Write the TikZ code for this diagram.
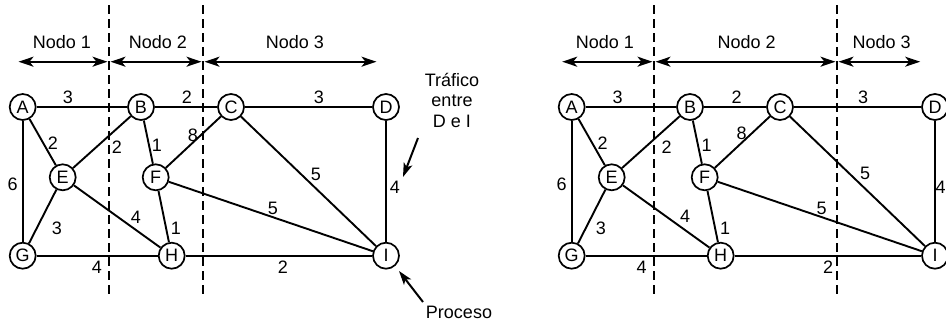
\documentclass[tikz,border=0pt]{standalone}
\usepackage{fontspec}
\setmainfont{Liberation Sans}
\usetikzlibrary{arrows.meta}
\tikzset{
  vtx/.style={circle,draw,line width=1.7pt,minimum size=26pt,inner sep=0pt,fill=white,font=\fontsize{18}{20}\selectfont},
  edg/.style={line width=1.9pt},
  wlab/.style={inner sep=0pt,font=\fontsize{18}{20}\selectfont},
  divline/.style={line width=1.9pt,dash pattern=on 9pt off 5pt},
  span/.style={line width=1.9pt,{Stealth[length=15pt,width=10pt,inset=4pt]}-{Stealth[length=15pt,width=10pt,inset=4pt]},shorten <=1.5pt,shorten >=1.5pt},
  note/.style={line width=2pt,-{Stealth[length=14pt,width=9pt,inset=3.5pt]}},
  ttl/.style={inner sep=0pt,font=\fontsize{18}{20}\selectfont}
}
\newcommand{\netgraph}[1]{%
  \node[vtx] (#1A) at (22.7,107) {A};
  \node[vtx] (#1B) at (141,107) {B};
  \node[vtx] (#1C) at (231,107) {C};
  \node[vtx] (#1D) at (386,107) {D};
  \node[vtx] (#1E) at (62.7,177.3) {E};
  \node[vtx] (#1F) at (155.7,177.3) {F};
  \node[vtx] (#1G) at (22.7,255.7) {G};
  \node[vtx] (#1H) at (171.7,255.7) {H};
  \node[vtx] (#1I) at (386,255.7) {I};
  \draw[edg] (#1A) -- (#1B);
  \draw[edg] (#1B) -- (#1C);
  \draw[edg] (#1C) -- (#1D);
  \draw[edg] (#1A) -- (#1E);
  \draw[edg] (#1A) -- (#1G);
  \draw[edg] (#1B) -- (#1E);
  \draw[edg] (#1B) -- (#1F);
  \draw[edg] (#1C) -- (#1F);
  \draw[edg] (#1C) -- (#1I);
  \draw[edg] (#1D) -- (#1I);
  \draw[edg] (#1E) -- (#1G);
  \draw[edg] (#1E) -- (#1H);
  \draw[edg] (#1F) -- (#1H);
  \draw[edg] (#1F) -- (#1I);
  \draw[edg] (#1G) -- (#1H);
  \draw[edg] (#1H) -- (#1I);
}
\begin{document}
\begin{tikzpicture}[x=1pt,y=-1pt]
\useasboundingbox (0,0) rectangle (946,322);
% ---------- left diagram ----------
\coordinate (lt1) at (109,5);  \coordinate (lb1) at (109,298);
\coordinate (lt2) at (203,5);  \coordinate (lb2) at (203,298);
\draw[divline] (lt1) -- (lb1);
\draw[divline] (lt2) -- (lb2);
\coordinate (la0) at (17,61.7);
\coordinate (la1) at (109,61.7);
\coordinate (la2) at (203,61.7);
\coordinate (la3) at (378,61.7);
\draw[span] (la0) -- (la1);
\draw[span] (la1) -- (la2);
\draw[span] (la2) -- (la3);
\node[ttl] (ln1) at (62,42) {Nodo 1};
\node[ttl] (ln2) at (158,42) {Nodo 2};
\node[ttl] (ln3) at (295,42) {Nodo 3};
\begin{scope}
\netgraph{L}
\end{scope}
\node[wlab] (lwAB) at (68,97) {3};
\node[wlab] (lwBC) at (187,97) {2};
\node[wlab] (lwCD) at (319,97) {3};
\node[wlab] (lwAE) at (53,143) {2};
\node[wlab] (lwBE) at (117,147) {2};
\node[wlab] (lwBF) at (157,145) {1};
\node[wlab] (lwCF) at (193,135) {8};
\node[wlab] (lwCI) at (316,174) {5};
\node[wlab] (lwDI) at (395,187) {4};
\node[wlab] (lwAG) at (12.7,184) {6};
\node[wlab] (lwEG) at (57,228) {3};
\node[wlab] (lwEH) at (136,217) {4};
\node[wlab] (lwFH) at (176,228) {1};
\node[wlab] (lwFI) at (273,208) {5};
\node[wlab] (lwGH) at (97,267) {4};
\node[wlab] (lwHI) at (283,267) {2};
% annotations
\node[ttl,align=center,font=\fontsize{18}{20.5}\selectfont] (traf) at (452,100) {Tráfico\\entre\\D e I};
\coordinate (trs) at (418,138);
\coordinate (tre) at (403,177);
\draw[note] (trs) -- (tre);
\node[ttl] (proc) at (459,312) {Proceso};
\coordinate (prs) at (423,302);
\coordinate (pre) at (399,271);
\draw[note] (prs) -- (pre);
% ---------- right diagram ----------
\coordinate (rt1) at (654,5);    \coordinate (rb1) at (654,298);
\coordinate (rt2) at (837,5);  \coordinate (rb2) at (837,298);
\draw[divline] (rt1) -- (rb1);
\draw[divline] (rt2) -- (rb2);
\coordinate (ra0) at (560.7,61.7);
\coordinate (ra1) at (654,61.7);
\coordinate (ra2) at (837,61.7);
\coordinate (ra3) at (921.7,61.7);
\draw[span] (ra0) -- (ra1);
\draw[span] (ra1) -- (ra2);
\draw[span] (ra2) -- (ra3);
\node[ttl] (rn1) at (605,42) {Nodo 1};
\node[ttl] (rn2) at (746.7,42) {Nodo 2};
\node[ttl] (rn3) at (881.7,42) {Nodo 3};
\begin{scope}[xshift=549pt]
\netgraph{R}
\end{scope}
\node[wlab] (rwAB) at (617.7,97) {3};
\node[wlab] (rwBC) at (736.7,97) {2};
\node[wlab] (rwCD) at (863,97) {3};
\node[wlab] (rwAE) at (602.7,143) {2};
\node[wlab] (rwBE) at (666.7,147) {2};
\node[wlab] (rwBF) at (706.7,145) {1};
\node[wlab] (rwCF) at (741.7,133) {8};
\node[wlab] (rwCI) at (865,173) {5};
\node[wlab] (rwDI) at (940.5,187) {4};
\node[wlab] (rwAG) at (561.7,184) {6};
\node[wlab] (rwEG) at (601,228) {3};
\node[wlab] (rwEH) at (685,216) {4};
\node[wlab] (rwFH) at (725,228) {1};
\node[wlab] (rwFI) at (821.7,208) {5};
\node[wlab] (rwGH) at (641.7,267) {4};
\node[wlab] (rwHI) at (828,267) {2};
\end{tikzpicture}
\end{document}
